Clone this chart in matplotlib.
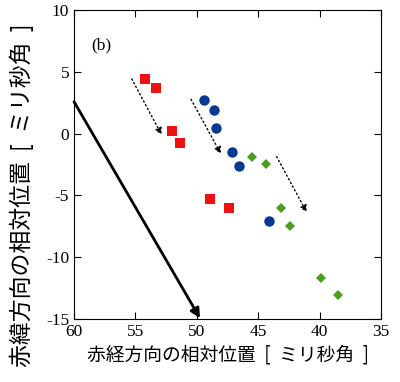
import matplotlib.pyplot as plt
import numpy as np

plt.rcParams['font.family'] = ['Liberation Serif', 'Noto Sans CJK JP']
plt.rcParams['axes.unicode_minus'] = False

# red squares
red_x = [54.2, 53.3, 52.0, 51.4, 48.95, 47.4]
red_y = [4.39, 3.66, 0.24, -0.79, -5.32, -6.05]
# blue circles
blue_x = [49.4, 48.6, 48.46, 47.16, 46.56, 44.12]
blue_y = [2.72, 1.93, 0.43, -1.46, -2.6, -7.05]
# green diamonds
green_x = [45.53, 44.37, 43.17, 42.39, 39.86, 38.53]
green_y = [-1.87, -2.46, -6.05, -7.48, -11.71, -13.06]

# dotted arrows: start, end
dot_start = [(55.3, 4.42), (50.47, 2.77), (43.5, -1.87)]
dot_end = [(52.86, -0.11), (48.03, -1.65), (41.05, -6.37)]
# solid arrow
solid_start = (60.0, 2.58)
solid_end = (49.74, -14.94)

xticks = [60, 55, 50, 45, 40, 35]
yticks = [10, 5, 0, -5, -10, -15]

fig = plt.figure(figsize=(4, 3.82), dpi=100)
ax = fig.add_axes([0.185, 0.165, 0.7675, 0.809])

ax.plot(red_x, red_y, 's', color='#ee1111', markersize=7, markeredgewidth=0)
ax.plot(blue_x, blue_y, 'o', color='#053a94', markersize=7.5, markeredgewidth=0)
ax.plot(green_x, green_y, 'D', color='#4aa01c', markersize=5, markeredgewidth=0)

for s, e in zip(dot_start, dot_end):
    ax.annotate('', xy=e, xytext=s,
                arrowprops=dict(arrowstyle='-|>', linestyle=(0, (1, 2)), color='k',
                                lw=1, mutation_scale=10, shrinkA=0, shrinkB=0))
ax.annotate('', xy=solid_end, xytext=solid_start,
            arrowprops=dict(arrowstyle='-|>', color='k', lw=2,
                            mutation_scale=14, shrinkA=0, shrinkB=0))

ax.text(57.75, 7.17, '(b)', fontsize=12.5, ha='center', va='center')

ax.set_xlim(60, 35)
ax.set_ylim(-15, 10)
ax.set_xticks(xticks)
ax.set_yticks(yticks)
ax.tick_params(direction='in', top=True, right=True, labelsize=12.5, length=5)
ax.set_xlabel('赤経方向の相対位置  [  ミリ秒角  ]', fontsize=13.5,
              family=['Noto Sans CJK JP'], va='center')
ax.set_ylabel('赤緯方向の相対位置  [  ミリ秒角  ]', fontsize=16.5,
              family=['Noto Sans CJK JP'], va='center')
ax.xaxis.set_label_coords(0.502, -0.117)
ax.yaxis.set_label_coords(-0.169, 0.40)

fig.savefig('out.png', dpi=100)
